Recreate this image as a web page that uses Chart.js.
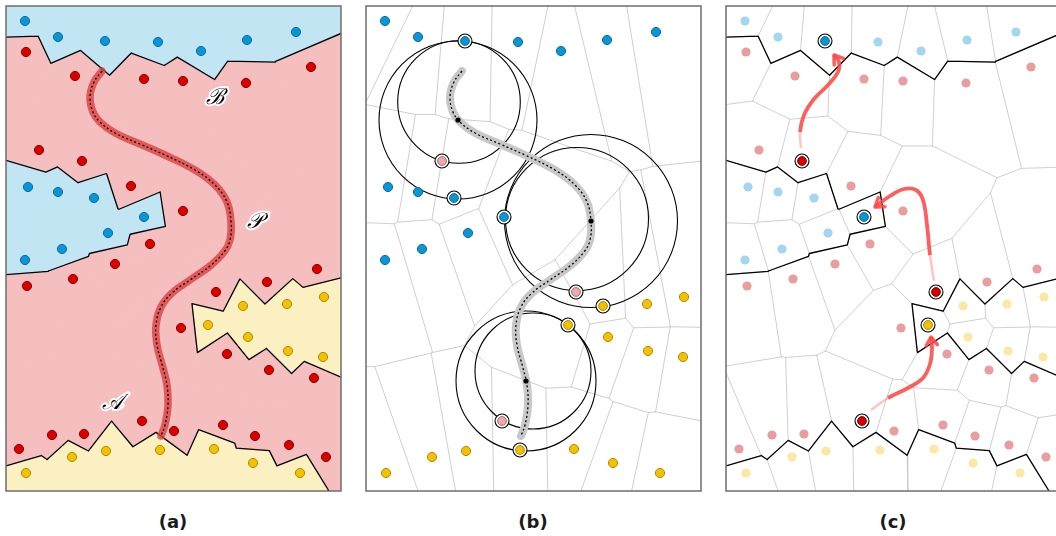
<!DOCTYPE html>
<html>
<head>
<meta charset="utf-8">
<script src="https://cdn.jsdelivr.net/npm/chart.js@4.4.1/dist/chart.umd.min.js"></script>
<style>
html, body { margin: 0; padding: 0; background: #fff; overflow: hidden; width: 1056px; height: 536px; }
.panel { position: absolute; top: 4px; width: 339px; height: 489px; }
.cap { position: absolute; top: 511px; width: 60px; line-height: 20px; text-align: center; font: bold 18px "DejaVu Sans", sans-serif; color: #1a1a1a; }
</style>
</head>
<body>
<div class="panel" style="left:4px"><canvas id="chartA"></canvas></div>
<div class="panel" style="left:364px"><canvas id="chartB"></canvas></div>
<div class="panel" style="left:724px"><canvas id="chartC"></canvas></div>
<div class="cap" style="left:143px">(a)</div>
<div class="cap" style="left:503px">(b)</div>
<div class="cap" style="left:863px">(c)</div>
<script>
// Plot box (same units in all three panels)
const X_MIN = 6, X_MAX = 341, Y_MIN = 6, Y_MAX = 491;

// Sample points, one list per class
const bluePts = [[25,21],[58,37],[105,41],[158,42],[201,51],[247,40],[296,32],
    [28,187],[58,192],[94,198],[144,217],[108,233],[62,249],[25,260]];
const redPts = [[26,52],[75,76],[144,79],[183,81],[246,83],[311,67],
    [39,150],[82,161],[131,186],[183,211],[150,244],
    [115,264],[73,279],[27,286],[216,292],[267,282],[317,269],
    [181,328],[227,354],[269,370],[314,378],
    [142,421],[174,431],[223,425],[255,436],[289,445],[326,457],[52,435],[84,434],[19,449]];
const yellowPts = [[243,306],[287,304],[324,297],[208,325],[248,337],[288,351],[323,357],
    [26,473],[72,457],[106,451],[160,450],[214,449],[253,463],[300,473]];

// Path P
const pathPts = [[102,71],[94,82],[90,97],[93,112],[100,122],[115,133],[140,144],[165,155],
    [195,170],[215,185],[227,202],[231,222],[230,240],[224,252],[210,266],[190,280],[172,293],
    [161,307],[156,325],[157,345],[163,368],[167,385],[168,405],[165,425],[161,436]];

// (b): sample points on the path and their circles
const pathDots = [[98,120],[231,221],[166,381]];
const outerR = [79, 86.5, 70];
const innerCenters = [[99,102],[217,219],[173,371]];
const innerR = [61.3, 71.5, 58];
const hiliteB = { blue: [2, 9, 10], yellow: [0, 3, 10], red: [7, 14, 21] };

// (c): highlighted points and arrows
const hiliteC = { blue: [2, 10], yellow: [3], red: [7, 14, 21] };
const arrow1 = [[81,148],[80,132],[84,115],[94,99],[108,85],[118,72],[119,62],[114,55]];
const arrow2 = [[214,281],[210,255],[207,225],[203,200],[196,190],[184,189],[170,196],[155,207]];
const arrow3 = [[151,410],[168,398],[188,388],[203,378],[210,364],[212,348],[211,337]];

const mathLabels = [['ℬ', 215, 98], ['𝒫', 255, 222], ['𝒜', 112, 403]];

const COL = {
    b: { fill: '#0a96d6', edge: '#0b6d9c', region: '#c2e5f4', faint: 'rgba(10,150,214,0.38)' },
    r: { fill: '#d90000', edge: '#8c0000', region: '#f5bfbf', faint: 'rgba(205,40,40,0.45)' },
    y: { fill: '#f2c200', edge: '#b08a00', region: '#fbf0c2', faint: 'rgba(242,200,40,0.42)' }
};

// ---- Voronoi cells by half-plane clipping ----
function clipHalf(poly, s, q) {
    const mx = (s[0] + q[0]) / 2, my = (s[1] + q[1]) / 2;
    const dx = q[0] - s[0], dy = q[1] - s[1];
    const f = p => (p[0] - mx) * dx + (p[1] - my) * dy;
    const out = [];
    for (let k = 0; k < poly.length; k++) {
        const a = poly[k], b = poly[(k + 1) % poly.length];
        const fa = f(a), fb = f(b);
        if (fa <= 0) out.push(a);
        if ((fa < 0 && fb > 0) || (fa > 0 && fb < 0)) {
            const t = fa / (fa - fb);
            out.push([a[0] + t * (b[0] - a[0]), a[1] + t * (b[1] - a[1])]);
        }
    }
    return out;
}

function voronoi(sites) {
    return sites.map((s, i) => {
        let poly = [[X_MIN, Y_MIN], [X_MAX, Y_MIN], [X_MAX, Y_MAX], [X_MIN, Y_MAX]];
        sites.forEach((q, j) => { if (j !== i && poly.length) poly = clipHalf(poly, s, q); });
        return poly;
    });
}

// interior edges (gray) and edges between different classes (black)
function cellEdges(sites, cls, cells) {
    const gray = [], black = [];
    cells.forEach((poly, i) => {
        for (let k = 0; k < poly.length; k++) {
            const a = poly[k], b = poly[(k + 1) % poly.length];
            const mx = (a[0] + b[0]) / 2, my = (a[1] + b[1]) / 2;
            const di = Math.hypot(mx - sites[i][0], my - sites[i][1]);
            let jBest = -1, dBest = Infinity;
            sites.forEach((q, j) => {
                if (j === i) return;
                const d = Math.hypot(mx - q[0], my - q[1]);
                if (d < dBest) { dBest = d; jBest = j; }
            });
            if (jBest > i && Math.abs(dBest - di) < 1e-6 * (1 + di)) {
                gray.push(a, b, null);
                if (cls[i] !== cls[jBest]) black.push(a, b, null);
            }
        }
    });
    return { gray, black };
}

const pt = p => ({ x: p[0], y: p[1] });
const segData = list => list.map(p => p ? pt(p) : { x: null, y: null });
const pick = (arr, idx) => idx.map(i => arr[i]);

const allSites = [...bluePts, ...redPts, ...yellowPts];
const allCls = [...bluePts.map(() => 'b'), ...redPts.map(() => 'r'), ...yellowPts.map(() => 'y')];
const allCells = voronoi(allSites);
const allEdges = cellEdges(allSites, allCls, allCells);

const byPts = [...bluePts, ...yellowPts];
const byCls = [...bluePts.map(() => 'b'), ...yellowPts.map(() => 'y')];
const byEdges = cellEdges(byPts, byCls, voronoi(byPts));

// ---- plugins ----
const framePlugin = {
    id: 'frame',
    afterDraw(chart) {
        const { ctx, chartArea: a } = chart;
        ctx.save();
        ctx.strokeStyle = '#6e6e6e';
        ctx.lineWidth = 1.5;
        ctx.strokeRect(a.left, a.top, a.right - a.left, a.bottom - a.top);
        ctx.restore();
    }
};

// circles of (b), drawn right after the gray cell edges
const ringsPlugin = {
    id: 'rings',
    afterDatasetDraw(chart, args, opts) {
        if (!opts.list || chart.data.datasets[args.index].label !== 'cells') return;
        const { ctx, scales: { x, y } } = chart;
        ctx.save();
        ctx.strokeStyle = '#000';
        ctx.lineWidth = 1.1;
        opts.list.forEach(([c, r]) => {
            const px = x.getPixelForValue(c[0]), py = y.getPixelForValue(c[1]);
            const pr = x.getPixelForValue(c[0] + r) - px;
            ctx.beginPath();
            ctx.arc(px, py, pr, 0, Math.PI * 2);
            ctx.stroke();
        });
        ctx.restore();
    }
};

// open arrow heads at the end of arrow datasets
const arrowPlugin = {
    id: 'arrowHead',
    afterDatasetDraw(chart, args) {
        const ds = chart.data.datasets[args.index];
        if (!ds.arrow) return;
        const pts = args.meta.data;
        const tip = pts[pts.length - 1], prev = pts[pts.length - 2];
        const ang = Math.atan2(tip.y - prev.y, tip.x - prev.x);
        const { ctx } = chart;
        ctx.save();
        ctx.strokeStyle = ds.borderColor;
        ctx.lineWidth = 3.5;
        ctx.lineCap = 'round';
        ctx.lineJoin = 'round';
        ctx.beginPath();
        ctx.moveTo(tip.x - 10 * Math.cos(ang - 0.6), tip.y - 10 * Math.sin(ang - 0.6));
        ctx.lineTo(tip.x, tip.y);
        ctx.lineTo(tip.x - 10 * Math.cos(ang + 0.6), tip.y - 10 * Math.sin(ang + 0.6));
        ctx.stroke();
        ctx.restore();
    }
};

const textPlugin = {
    id: 'mathText',
    afterDatasetsDraw(chart, args, opts) {
        if (!opts.items) return;
        const { ctx, scales: { x, y } } = chart;
        ctx.save();
        ctx.font = 'italic 22px "DejaVu Serif", serif';
        ctx.textAlign = 'center';
        ctx.textBaseline = 'middle';
        ctx.lineJoin = 'round';
        opts.items.forEach(([t, vx, vy]) => {
            const px = x.getPixelForValue(vx), py = y.getPixelForValue(vy);
            ctx.strokeStyle = '#fff';
            ctx.lineWidth = 4;
            ctx.strokeText(t, px, py);
            ctx.fillStyle = '#000';
            ctx.fillText(t, px, py);
        });
        ctx.restore();
    }
};

// ---- dataset helpers ----
function lineSet(data, color, width, order, extra) {
    return Object.assign({
        data, showLine: true, borderColor: color, borderWidth: width, pointRadius: 0,
        fill: false, tension: 0, order, borderCapStyle: 'round', borderJoinStyle: 'round'
    }, extra || {});
}
function dotSet(pts, fill, edge, radius, order, width) {
    return {
        data: pts.map(pt), showLine: false, pointRadius: radius, pointBackgroundColor: fill,
        pointBorderColor: edge, pointBorderWidth: width === undefined ? 1 : width, order
    };
}
function makeChart(id, datasets, pluginOpts) {
    return new Chart(document.getElementById(id), {
        type: 'scatter',
        data: { datasets },
        options: {
            animation: false, responsive: true, maintainAspectRatio: false, events: [],
            layout: { padding: 2, autoPadding: false },
            scales: {
                x: { type: 'linear', min: X_MIN, max: X_MAX, display: false },
                y: { type: 'linear', min: Y_MIN, max: Y_MAX, reverse: true, display: false }
            },
            plugins: Object.assign({ legend: { display: false }, tooltip: { enabled: false } }, pluginOpts)
        },
        plugins: [framePlugin, ringsPlugin, arrowPlugin, textPlugin]
    });
}

// ---- (a) regions ----
const dsA = allCells.map((poly, i) => {
    const c = COL[allCls[i]].region;
    return lineSet([...poly, poly[0]].map(pt), c, 1, 20, { fill: 'shape', backgroundColor: c, borderJoinStyle: 'miter' });
});
dsA.push(lineSet(segData(allEdges.black), '#000', 1.3, 10));
dsA.push(lineSet(pathPts.map(pt), 'rgba(222,62,62,0.8)', 7.5, 8, { tension: 0.4 }));
dsA.push(lineSet(pathPts.map(pt), '#000', 1.3, 7, { tension: 0.4, borderDash: [2, 2.4], borderCapStyle: 'butt' }));
dsA.push(dotSet(bluePts, COL.b.fill, COL.b.edge, 4.6, 5));
dsA.push(dotSet(redPts, COL.r.fill, COL.r.edge, 4.6, 5));
dsA.push(dotSet(yellowPts, COL.y.fill, COL.y.edge, 4.6, 5));
makeChart('chartA', dsA, { mathText: { items: mathLabels } });

// ---- (b) circles around the path ----
const hbBlue = pick(bluePts, hiliteB.blue), hbYellow = pick(yellowPts, hiliteB.yellow), hbRed = pick(redPts, hiliteB.red);
const dsB = [
    lineSet(segData(byEdges.gray), '#c9c9c9', 0.9, 20, { label: 'cells' }),
    lineSet(pathPts.map(pt), '#c8c8c8', 8, 8, { tension: 0.4 }),
    lineSet(pathPts.map(pt), '#000', 1.3, 7, { tension: 0.4, borderDash: [2, 2.4], borderCapStyle: 'butt' }),
    dotSet(bluePts, COL.b.fill, COL.b.edge, 4.6, 5),
    dotSet(yellowPts, COL.y.fill, COL.y.edge, 4.6, 5),
    dotSet([...hbBlue, ...hbYellow, ...hbRed], '#fff', '#000', 7, 4, 1.1),
    dotSet(hbBlue, COL.b.fill, COL.b.edge, 4.4, 3),
    dotSet(hbYellow, COL.y.fill, COL.y.edge, 4.4, 3),
    dotSet(hbRed, '#eeaaaa', '#a86a6a', 4.4, 3),
    dotSet(pathDots, '#000', '#000', 2.6, 2, 0)
];
const circleList = [
    ...pathDots.map((c, i) => [c, outerR[i]]),
    ...innerCenters.map((c, i) => [c, innerR[i]])
];
makeChart('chartB', dsB, { rings: { list: circleList } });

// ---- (c) moves between cells ----
const hcBlue = pick(bluePts, hiliteC.blue), hcYellow = pick(yellowPts, hiliteC.yellow), hcRed = pick(redPts, hiliteC.red);
const arrowColor = 'rgba(255,72,72,0.88)';
const arrowSeg = {
    borderColor: c => c.p0DataIndex === 0 ? 'rgba(255,90,90,0.35)' : arrowColor,
    borderWidth: c => c.p0DataIndex === 0 ? 2.5 : 3.8
};
const dsC = [
    lineSet(segData(allEdges.gray), '#cbcbcb', 0.9, 20),
    lineSet(segData(allEdges.black), '#000', 1.3, 10),
    dotSet(bluePts, COL.b.faint, 'rgba(0,0,0,0)', 4.6, 6, 0),
    dotSet(redPts, COL.r.faint, 'rgba(0,0,0,0)', 4.6, 6, 0),
    dotSet(yellowPts, COL.y.faint, 'rgba(0,0,0,0)', 4.6, 6, 0),
    lineSet(arrow1.map(pt), arrowColor, 3.8, 5, { tension: 0.4, arrow: true, segment: arrowSeg, borderCapStyle: 'butt' }),
    lineSet(arrow2.map(pt), arrowColor, 3.8, 5, { tension: 0.4, arrow: true, segment: arrowSeg, borderCapStyle: 'butt' }),
    lineSet(arrow3.map(pt), arrowColor, 3.8, 5, { tension: 0.4, arrow: true, segment: arrowSeg, borderCapStyle: 'butt' }),
    dotSet([...hcBlue, ...hcYellow, ...hcRed], '#fff', '#000', 7, 4, 1.1),
    dotSet(hcBlue, COL.b.fill, COL.b.edge, 4.4, 3),
    dotSet(hcYellow, COL.y.fill, COL.y.edge, 4.4, 3),
    dotSet(hcRed, COL.r.fill, COL.r.edge, 4.4, 3)
];
makeChart('chartC', dsC, {});
</script>
</body>
</html>
